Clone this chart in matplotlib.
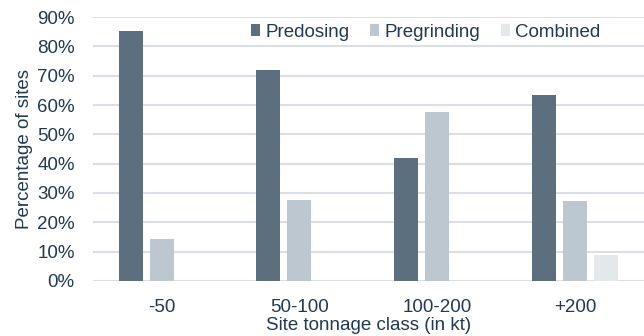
import numpy as np
import matplotlib.pyplot as plt

plt.rcParams['font.family'] = ['Liberation Sans', 'DejaVu Sans']

categories = ['-50', '50-100', '100-200', '+200']
predosing = [85.4, 72.0, 42.0, 63.4]
pregrinding = [14.3, 27.6, 57.6, 27.2]
combined = [0, 0, 0, 8.9]

text_color = '#1f3a52'
grid_color = '#d9dfe4'
fs = 13.5

fig = plt.figure(figsize=(6.44, 3.36), dpi=100)
ax = fig.add_axes([0.144, 0.164, 0.856, 0.785])

x = np.arange(len(categories))
w = 0.174
step = 0.225
ax.bar(x - step, predosing, w, color='#5c6f7f', label='Predosing', zorder=3)
ax.bar(x, pregrinding, w, color='#bcc7cf', label='Pregrinding', zorder=3)
ax.bar(x + step, combined, w, color='#e3e8eb', label='Combined', zorder=3)

ax.set_xlim(-0.5, 3.5)
ax.set_ylim(0, 90)
ax.set_yticks(np.arange(0, 91, 10))
ax.set_yticklabels([f'{v}%' for v in range(0, 91, 10)])
ax.set_xticks(x)
ax.set_xticklabels(categories)
ax.yaxis.grid(True, color=grid_color, linewidth=1.5, zorder=0)
ax.tick_params(axis='both', length=0, labelsize=fs, labelcolor=text_color)
ax.tick_params(axis='x', pad=13)
ax.tick_params(axis='y', pad=13)
for s in ax.spines.values():
    s.set_visible(False)

ax.set_ylabel('Percentage of sites', fontsize=fs, color=text_color, labelpad=3)
ax.set_xlabel('Site tonnage class (in kt)', fontsize=fs, color=text_color, labelpad=1)

leg = ax.legend(ncol=3, frameon=False, loc='center', bbox_to_anchor=(0.604, 0.943),
                fontsize=fs, handlelength=0.48, handleheight=0.55, handletextpad=0.27,
                columnspacing=1.1, borderaxespad=0, borderpad=0)
for t in leg.get_texts():
    t.set_color(text_color)

fig.savefig('out.png', dpi=100)
